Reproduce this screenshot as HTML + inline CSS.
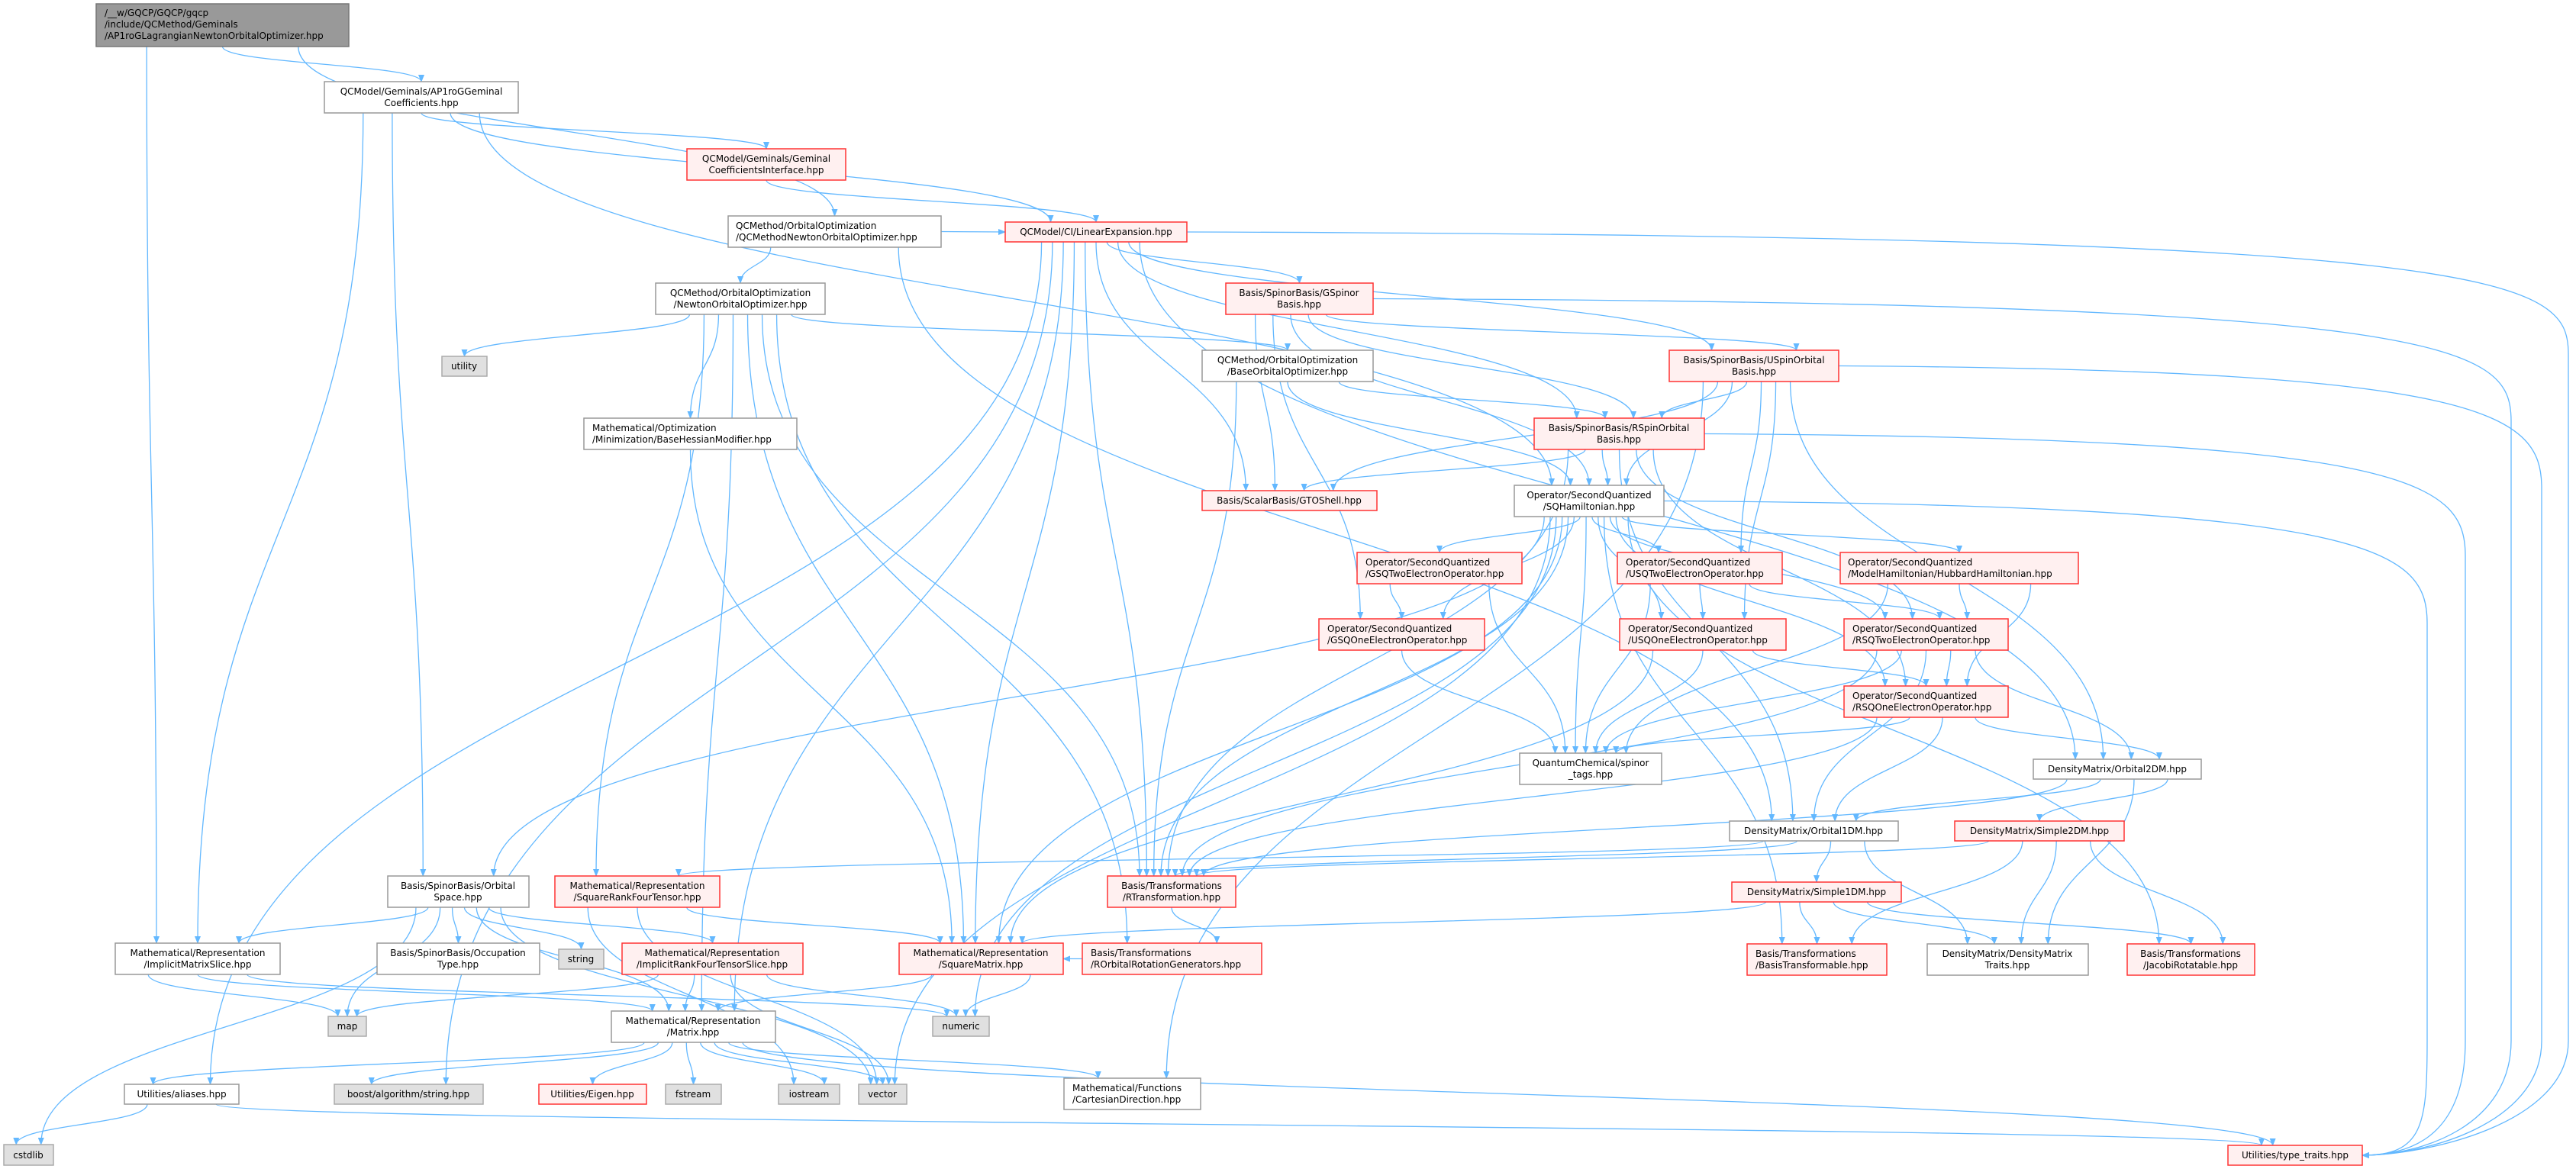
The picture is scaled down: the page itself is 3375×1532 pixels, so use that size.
<!DOCTYPE html>
<html><head><meta charset="utf-8">
<style>
html,body{margin:0;padding:0;background:#fff;}
svg{display:block;}
text{font-family:"DejaVu Sans","Liberation Sans",sans-serif;font-size:12px;fill:#000;}
.w{fill:#fff;stroke:#999;stroke-width:1.5}
.r{fill:#fff0f0;stroke:#f33;stroke-width:1.5}
.g{fill:#e0e0e0;stroke:#aaa;stroke-width:1.5}
.root{fill:#999;stroke:#777;stroke-width:1.5}
.e{fill:none;stroke:#63b8ff;stroke-width:1.3}
</style></head><body>
<svg id="s" width="3375" height="1532" viewBox="0 0 3375 1532" xmlns="http://www.w3.org/2000/svg">
<defs><marker id="a" markerWidth="10" markerHeight="8" refX="9" refY="4" orient="auto" markerUnits="userSpaceOnUse"><path d="M0,0 L10,4 L0,8 z" fill="#63b8ff"/></marker></defs>
<g id="edges"></g>
<g id="nodes">
<rect id="root" class="root" x="126" y="5" width="331" height="56"/><text x="137" y="21">/__w/GQCP/GQCP/gqcp</text><text x="137" y="36">/include/QCMethod/Geminals</text><text x="137" y="51">/AP1roGLagrangianNewtonOrbitalOptimizer.hpp</text>
<rect id="ap1" class="w" x="425" y="107" width="254" height="41"/><text x="552" y="124" text-anchor="middle">QCModel/Geminals/AP1roGGeminal</text><text x="552" y="139" text-anchor="middle">Coefficients.hpp</text>
<rect id="gci" class="r" x="900" y="195" width="208" height="41"/><text x="1004" y="212" text-anchor="middle">QCModel/Geminals/Geminal</text><text x="1004" y="227" text-anchor="middle">CoefficientsInterface.hpp</text>
<rect id="qcn" class="w" x="954" y="283" width="279" height="41"/><text x="964" y="300">QCMethod/OrbitalOptimization</text><text x="964" y="315">/QCMethodNewtonOrbitalOptimizer.hpp</text>
<rect id="noo" class="w" x="859" y="371" width="222" height="41"/><text x="970" y="388" text-anchor="middle">QCMethod/OrbitalOptimization</text><text x="970" y="403" text-anchor="middle">/NewtonOrbitalOptimizer.hpp</text>
<rect id="util" class="g" x="579" y="467" width="59" height="26"/><text x="608" y="484" text-anchor="middle">utility</text>
<rect id="bhm" class="w" x="765" y="548" width="279" height="41"/><text x="776" y="565">Mathematical/Optimization</text><text x="776" y="580">/Minimization/BaseHessianModifier.hpp</text>
<rect id="lin" class="r" x="1317" y="291" width="238" height="26"/><text x="1436" y="308" text-anchor="middle">QCModel/CI/LinearExpansion.hpp</text>
<rect id="gsp" class="r" x="1606" y="371" width="193" height="41"/><text x="1702" y="388" text-anchor="middle">Basis/SpinorBasis/GSpinor</text><text x="1702" y="403" text-anchor="middle">Basis.hpp</text>
<rect id="boo" class="w" x="1575" y="459" width="224" height="41"/><text x="1687" y="476" text-anchor="middle">QCMethod/OrbitalOptimization</text><text x="1687" y="491" text-anchor="middle">/BaseOrbitalOptimizer.hpp</text>
<rect id="usp" class="r" x="2187" y="459" width="222" height="41"/><text x="2298" y="476" text-anchor="middle">Basis/SpinorBasis/USpinOrbital</text><text x="2298" y="491" text-anchor="middle">Basis.hpp</text>
<rect id="rsp" class="r" x="2010" y="548" width="223" height="41"/><text x="2121" y="565" text-anchor="middle">Basis/SpinorBasis/RSpinOrbital</text><text x="2121" y="580" text-anchor="middle">Basis.hpp</text>
<rect id="gto" class="r" x="1575" y="643" width="229" height="26"/><text x="1689" y="660" text-anchor="middle">Basis/ScalarBasis/GTOShell.hpp</text>
<rect id="sqh" class="w" x="1984" y="636" width="196" height="41"/><text x="2082" y="653" text-anchor="middle">Operator/SecondQuantized</text><text x="2082" y="668" text-anchor="middle">/SQHamiltonian.hpp</text>
<rect id="gsq2" class="r" x="1778" y="724" width="216" height="41"/><text x="1789" y="741">Operator/SecondQuantized</text><text x="1789" y="756">/GSQTwoElectronOperator.hpp</text>
<rect id="usq2" class="r" x="2119" y="724" width="216" height="41"/><text x="2130" y="741">Operator/SecondQuantized</text><text x="2130" y="756">/USQTwoElectronOperator.hpp</text>
<rect id="hub" class="r" x="2411" y="724" width="312" height="41"/><text x="2421" y="741">Operator/SecondQuantized</text><text x="2421" y="756">/ModelHamiltonian/HubbardHamiltonian.hpp</text>
<rect id="gsq1" class="r" x="1728" y="811" width="217" height="41"/><text x="1739" y="828">Operator/SecondQuantized</text><text x="1739" y="843">/GSQOneElectronOperator.hpp</text>
<rect id="usq1" class="r" x="2122" y="811" width="218" height="41"/><text x="2133" y="828">Operator/SecondQuantized</text><text x="2133" y="843">/USQOneElectronOperator.hpp</text>
<rect id="rsq2" class="r" x="2416" y="811" width="215" height="41"/><text x="2427" y="828">Operator/SecondQuantized</text><text x="2427" y="843">/RSQTwoElectronOperator.hpp</text>
<rect id="rsq1" class="r" x="2416" y="899" width="215" height="41"/><text x="2427" y="916">Operator/SecondQuantized</text><text x="2427" y="931">/RSQOneElectronOperator.hpp</text>
<rect id="tags" class="w" x="1991" y="987" width="186" height="41"/><text x="2084" y="1004" text-anchor="middle">QuantumChemical/spinor</text><text x="2084" y="1019" text-anchor="middle">_tags.hpp</text>
<rect id="o2dm" class="w" x="2664" y="995" width="220" height="26"/><text x="2774" y="1012" text-anchor="middle">DensityMatrix/Orbital2DM.hpp</text>
<rect id="o1dm" class="w" x="2266" y="1076" width="221" height="26"/><text x="2376" y="1093" text-anchor="middle">DensityMatrix/Orbital1DM.hpp</text>
<rect id="s2dm" class="r" x="2561" y="1076" width="222" height="26"/><text x="2672" y="1093" text-anchor="middle">DensityMatrix/Simple2DM.hpp</text>
<rect id="s1dm" class="r" x="2269" y="1156" width="222" height="26"/><text x="2380" y="1173" text-anchor="middle">DensityMatrix/Simple1DM.hpp</text>
<rect id="btf" class="r" x="2289" y="1237" width="183" height="41"/><text x="2300" y="1254">Basis/Transformations</text><text x="2300" y="1269">/BasisTransformable.hpp</text>
<rect id="dmt" class="w" x="2525" y="1237" width="211" height="41"/><text x="2630" y="1254" text-anchor="middle">DensityMatrix/DensityMatrix</text><text x="2630" y="1269" text-anchor="middle">Traits.hpp</text>
<rect id="jac" class="r" x="2787" y="1237" width="167" height="41"/><text x="2870" y="1254" text-anchor="middle">Basis/Transformations</text><text x="2870" y="1269" text-anchor="middle">/JacobiRotatable.hpp</text>
<rect id="tt" class="r" x="2919" y="1501" width="176" height="26"/><text x="3007" y="1518" text-anchor="middle">Utilities/type_traits.hpp</text>
<rect id="osp" class="w" x="508" y="1148" width="185" height="41"/><text x="600" y="1165" text-anchor="middle">Basis/SpinorBasis/Orbital</text><text x="600" y="1180" text-anchor="middle">Space.hpp</text>
<rect id="srft" class="r" x="727" y="1148" width="216" height="41"/><text x="835" y="1165" text-anchor="middle">Mathematical/Representation</text><text x="835" y="1180" text-anchor="middle">/SquareRankFourTensor.hpp</text>
<rect id="ims" class="w" x="151" y="1236" width="216" height="41"/><text x="259" y="1253" text-anchor="middle">Mathematical/Representation</text><text x="259" y="1268" text-anchor="middle">/ImplicitMatrixSlice.hpp</text>
<rect id="occ" class="w" x="494" y="1236" width="213" height="41"/><text x="600" y="1253" text-anchor="middle">Basis/SpinorBasis/Occupation</text><text x="600" y="1268" text-anchor="middle">Type.hpp</text>
<rect id="str" class="g" x="732" y="1244" width="59" height="26"/><text x="761" y="1261" text-anchor="middle">string</text>
<rect id="irfs" class="r" x="815" y="1236" width="237" height="41"/><text x="933" y="1253" text-anchor="middle">Mathematical/Representation</text><text x="933" y="1268" text-anchor="middle">/ImplicitRankFourTensorSlice.hpp</text>
<rect id="map" class="g" x="430" y="1332" width="50" height="26"/><text x="455" y="1349" text-anchor="middle">map</text>
<rect id="mat" class="w" x="801" y="1325" width="215" height="41"/><text x="908" y="1342" text-anchor="middle">Mathematical/Representation</text><text x="908" y="1357" text-anchor="middle">/Matrix.hpp</text>
<rect id="ali" class="w" x="163" y="1421" width="150" height="26"/><text x="238" y="1438" text-anchor="middle">Utilities/aliases.hpp</text>
<rect id="bst" class="g" x="438" y="1421" width="195" height="26"/><text x="535" y="1438" text-anchor="middle">boost/algorithm/string.hpp</text>
<rect id="eig" class="r" x="706" y="1421" width="141" height="26"/><text x="776" y="1438" text-anchor="middle">Utilities/Eigen.hpp</text>
<rect id="fst" class="g" x="872" y="1421" width="73" height="26"/><text x="908" y="1438" text-anchor="middle">fstream</text>
<rect id="ios" class="g" x="1020" y="1421" width="80" height="26"/><text x="1060" y="1438" text-anchor="middle">iostream</text>
<rect id="vec" class="g" x="1125" y="1421" width="63" height="26"/><text x="1156" y="1438" text-anchor="middle">vector</text>
<rect id="cart" class="w" x="1394" y="1413" width="179" height="41"/><text x="1405" y="1430">Mathematical/Functions</text><text x="1405" y="1445">/CartesianDirection.hpp</text>
<rect id="rtr" class="r" x="1451" y="1148" width="168" height="41"/><text x="1535" y="1165" text-anchor="middle">Basis/Transformations</text><text x="1535" y="1180" text-anchor="middle">/RTransformation.hpp</text>
<rect id="sqm" class="r" x="1178" y="1236" width="215" height="41"/><text x="1285" y="1253" text-anchor="middle">Mathematical/Representation</text><text x="1285" y="1268" text-anchor="middle">/SquareMatrix.hpp</text>
<rect id="rorg" class="r" x="1418" y="1236" width="235" height="41"/><text x="1429" y="1253">Basis/Transformations</text><text x="1429" y="1268">/ROrbitalRotationGenerators.hpp</text>
<rect id="num" class="g" x="1222" y="1332" width="74" height="26"/><text x="1259" y="1349" text-anchor="middle">numeric</text>
<rect id="cst" class="g" x="5" y="1500" width="65" height="27"/><text x="37" y="1518" text-anchor="middle">cstdlib</text>
</g>
</svg>
<script>
var E="root>ap1 root>qcn root>ims ap1>gci ap1>lin ap1>sqh ap1>osp ap1>ims gci>lin qcn>noo qcn>lin qcn>o1dm lin>gsp lin>usp lin>rsp lin>gto lin>rtr lin>tt lin>o2dm lin>ali lin>bst lin>mat lin>sqm noo>util noo>bhm noo>boo noo>srft noo>sqm noo>mat noo>rtr noo>rorg bhm>sqm boo>rsp boo>sqh boo>rtr gsp>usp gsp>rsp gsp>gto gsp>sqh gsp>gsq1 gsp>tt usp>rsp usp>gto usp>sqh usp>usq2 usp>usq1 usp>o2dm usp>tt usp>cart rsp>gto rsp>sqh rsp>rsq2 rsp>rsq1 rsp>rtr rsp>tt rsp>o1dm sqh>gsq2 sqh>usq2 sqh>hub sqh>rsq2 sqh>rsq1 sqh>gsq1 sqh>usq1 sqh>tags sqh>osp sqh>sqm sqh>num sqh>vec sqh>btf sqh>jac sqh>tt sqh>rtr gsq2>gsq1 gsq2>tags usq2>usq1 usq2>tags usq2>rsq2 hub>rsq2 hub>rsq1 hub>tags gsq1>tags usq1>tags usq1>rsq1 usq1>sqm rsq2>rsq1 rsq2>tags rsq2>o2dm rsq2>o1dm rsq2>rtr rsq1>tags rsq1>o2dm rsq1>o1dm rsq1>rtr o2dm>o1dm o2dm>s2dm o2dm>dmt o2dm>rtr o1dm>s1dm o1dm>dmt o1dm>srft o1dm>rtr s2dm>btf s2dm>dmt s2dm>jac s2dm>rtr s1dm>btf s1dm>dmt s1dm>jac s1dm>sqm osp>ims osp>occ osp>str osp>irfs osp>map osp>cst osp>vec osp>mat srft>sqm srft>ios srft>vec ims>map ims>mat ims>num irfs>map irfs>mat irfs>num irfs>vec mat>ali mat>bst mat>eig mat>fst mat>ios mat>vec mat>cart mat>tt ali>cst ali>tt sqm>mat sqm>num rtr>rorg rorg>sqm".split(" ");
var RIGHT={"lin>tt":3365,"usp>tt":3330,"gsp>tt":3290,"rsp>tt":3230,"sqh>tt":3180};
function R(id){var r=document.getElementById(id);return{x:+r.getAttribute("x"),y:+r.getAttribute("y"),w:+r.getAttribute("width"),h:+r.getAttribute("height")};}
var outs={},ins={};E.forEach(function(e){var p=e.split(">");(outs[p[0]]=outs[p[0]]||[]).push(p[1]);(ins[p[1]]=ins[p[1]]||[]).push(p[0]);});
var g=document.getElementById("edges"),s="";
function cx(b){return b.x+b.w/2;}
E.forEach(function(e){var p=e.split(">"),a=R(p[0]),b=R(p[1]);
var d;
if(RIGHT[e]){var X=RIGHT[e],sy=a.y+a.h/2,x1=a.x+a.w,ty=b.y+b.h/2,x2=b.x+b.w;
d="M"+x1+","+sy+" C"+(X-80)+","+(sy+5)+" "+X+","+(sy+60)+" "+X+","+(sy+160)+" L"+X+","+(ty-150)+" C"+X+","+(ty-40)+" "+(x2+80)+","+ty+" "+x2+","+ty;}
else{
var oa=outs[p[0]].slice().sort(function(m,n){return cx(R(m))-cx(R(n));}),ib=ins[p[1]].slice().sort(function(m,n){return cx(R(m))-cx(R(n));});
var i=oa.indexOf(p[1]),j=ib.indexOf(p[0]);
var sx=a.x+a.w*(0.2+0.6*(oa.length>1?i/(oa.length-1):0.5));
var tx=b.x+b.w*(0.25+0.5*(ib.length>1?j/(ib.length-1):0.5));
if(b.y>=a.y+a.h-2){var sy=a.y+a.h,ty=b.y,m=(ty-sy)*0.5;d="M"+sx+","+sy+" C"+sx+","+(sy+m)+" "+tx+","+(ty-m)+" "+tx+","+ty;}
else{var sy=a.y+a.h/2,ty=b.y+b.h/2,x1,x2;if(cx(b)>cx(a)){x1=a.x+a.w;x2=b.x;}else{x1=a.x;x2=b.x+b.w;}d="M"+x1+","+sy+" C"+((x1+x2)/2)+","+sy+" "+((x1+x2)/2)+","+ty+" "+x2+","+ty;}
}
s+='<path class="e" marker-end="url(#a)" d="'+d+'"/>';});
g.innerHTML=s;
</script>
</body></html>
